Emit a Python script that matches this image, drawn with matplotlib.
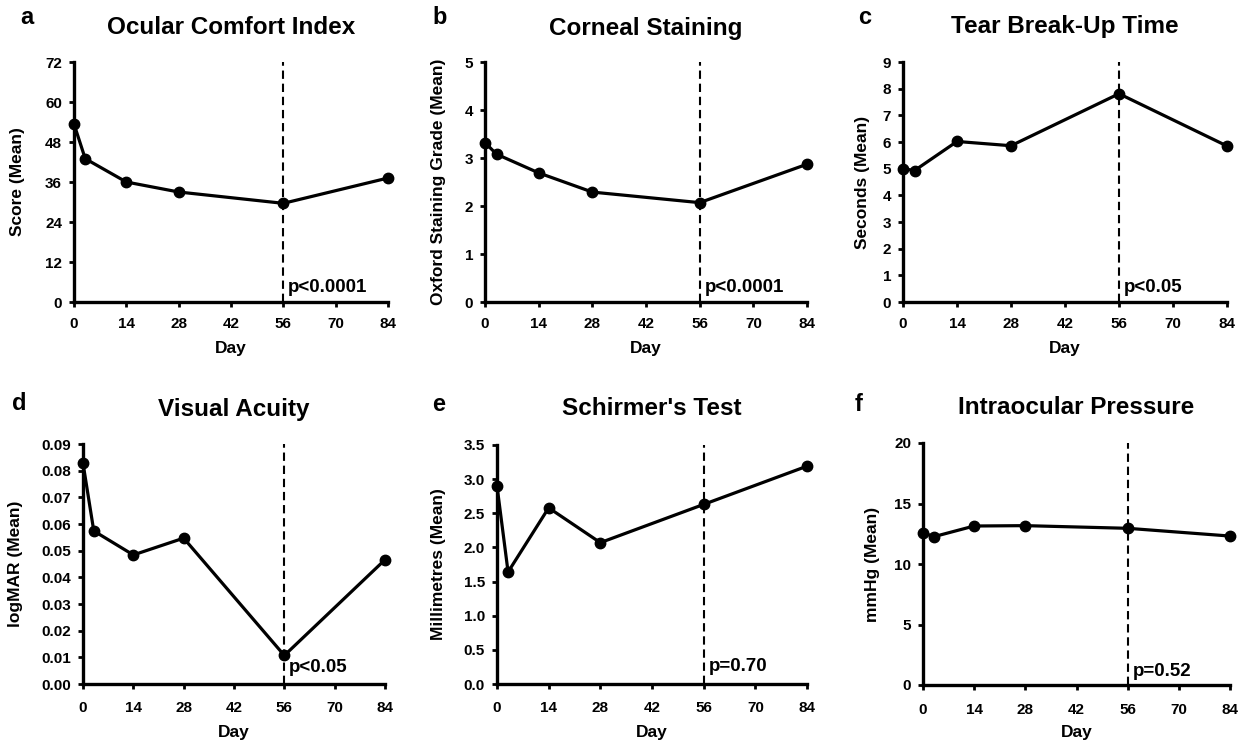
import matplotlib
matplotlib.use("Agg")
import matplotlib.pyplot as plt
from matplotlib.ticker import FormatStrFormatter

plt.rcParams['font.family'] = ['Liberation Sans', 'DejaVu Sans']
plt.rcParams['font.weight'] = 'bold'

days = [0, 3, 14, 28, 56, 84]
xticks = [0, 14, 28, 42, 56, 70, 84]

comfort = [53.4, 43.0, 36.0, 33.0, 29.6, 37.2]
staining = [3.32, 3.08, 2.69, 2.29, 2.07, 2.87]
tbut = [5.0, 4.93, 6.02, 5.86, 7.81, 5.85]
acuity = [0.0828, 0.0574, 0.0484, 0.0547, 0.0107, 0.0466]
schirmer = [2.90, 1.64, 2.58, 2.07, 2.63, 3.19]
iop = [12.59, 12.26, 13.14, 13.17, 12.95, 12.31]

letters = ['a', 'b', 'c', 'd', 'e', 'f']
titles = ['Ocular Comfort Index', 'Corneal Staining', 'Tear Break-Up Time',
          'Visual Acuity', "Schirmer's Test", 'Intraocular Pressure']
ylabels = ['Score (Mean)', 'Oxford Staining Grade (Mean)', 'Seconds (Mean)',
           'logMAR (Mean)', 'Millimetres (Mean)', 'mmHg (Mean)']
pvals = ['p<0.0001', 'p<0.0001', 'p<0.05', 'p<0.05', 'p=0.70', 'p=0.52']
series = [comfort, staining, tbut, acuity, schirmer, iop]
yticks_list = [
    [0, 12, 24, 36, 48, 60, 72],
    [0, 1, 2, 3, 4, 5],
    [0, 1, 2, 3, 4, 5, 6, 7, 8, 9],
    [0, 0.01, 0.02, 0.03, 0.04, 0.05, 0.06, 0.07, 0.08, 0.09],
    [0, 0.5, 1.0, 1.5, 2.0, 2.5, 3.0, 3.5],
    [0, 5, 10, 15, 20],
]
yfmt = ['%d', '%d', '%d', '%.2f', '%.1f', '%d']

# layout (pixels)
boxes = [
    (74, 388, 62, 302),
    (485, 807, 62, 302),
    (903, 1227, 62, 302),
    (83, 385, 444, 684),
    (497, 807, 445, 684),
    (923, 1230, 443, 685),
]
letter_pos = [(20, 18), (432, 18), (858, 18), (12, 404), (432, 405), (855, 405)]
ylabel_x = [18, 438, 863, 16, 439, 872]
title_y = [27, 28, 27, 410, 409, 408]
xlabel_y = [349, 349, 349, 732, 732, 732]
xpad = [7, 7, 7, 9, 9, 9]
p_frac = [0.062, 0.062, 0.062, 0.07, 0.074, 0.055]

W, H = 1240, 744
fig = plt.figure(figsize=(W / 100, H / 100), dpi=100)

for i in range(6):
    l, r, t, b = boxes[i]
    ax = fig.add_axes([l / W, 1 - b / H, (r - l) / W, (b - t) / H])
    yt = yticks_list[i]
    ax.plot(days, series[i], color='black', lw=2.3, marker='o', ms=7.5,
            clip_on=False, zorder=3)
    ax.axvline(56, color='black', lw=1.5, ls=(0, (4, 2.3)), zorder=2)
    ax.set_xlim(0, 84)
    ax.set_ylim(yt[0], yt[-1])
    ax.set_xticks(xticks)
    ax.set_yticks(yt)
    ax.yaxis.set_major_formatter(FormatStrFormatter(yfmt[i]))
    for s in ['top', 'right']:
        ax.spines[s].set_visible(False)
    for s in ['left', 'bottom']:
        ax.spines[s].set_linewidth(2.4)
    ax.tick_params(axis='both', direction='out', length=3.6, width=2,
                   labelsize=11)
    ax.tick_params(axis='x', pad=xpad[i])
    ax.tick_params(axis='y', pad=5)
    for lab in ax.get_xticklabels() + ax.get_yticklabels():
        lab.set_fontweight('bold')
    cx = (l + r) / 2
    fig.text(cx / W, 1 - xlabel_y[i] / H, 'Day', fontsize=12.5,
             fontweight='bold', ha='center', va='center')
    fig.text(ylabel_x[i] / W, 1 - ((t + b) / 2) / H, ylabels[i],
             fontsize=12.5, fontweight='bold', rotation=90,
             ha='center', va='center')
    fig.text(cx / W, 1 - title_y[i] / H, titles[i], fontsize=17.5,
             fontweight='bold', ha='center', va='center')
    ax.annotate(pvals[i], xy=(56, p_frac[i]), xycoords=('data', 'axes fraction'),
                xytext=(3.5, 0), textcoords='offset points',
                fontsize=13.5, fontweight='bold', va='center', ha='left')
    lx, ly = letter_pos[i]
    fig.text(lx / W, 1 - ly / H, letters[i], fontsize=17, fontweight='bold',
             ha='left', va='center')

fig.savefig('out.png', dpi=100, facecolor='white')
